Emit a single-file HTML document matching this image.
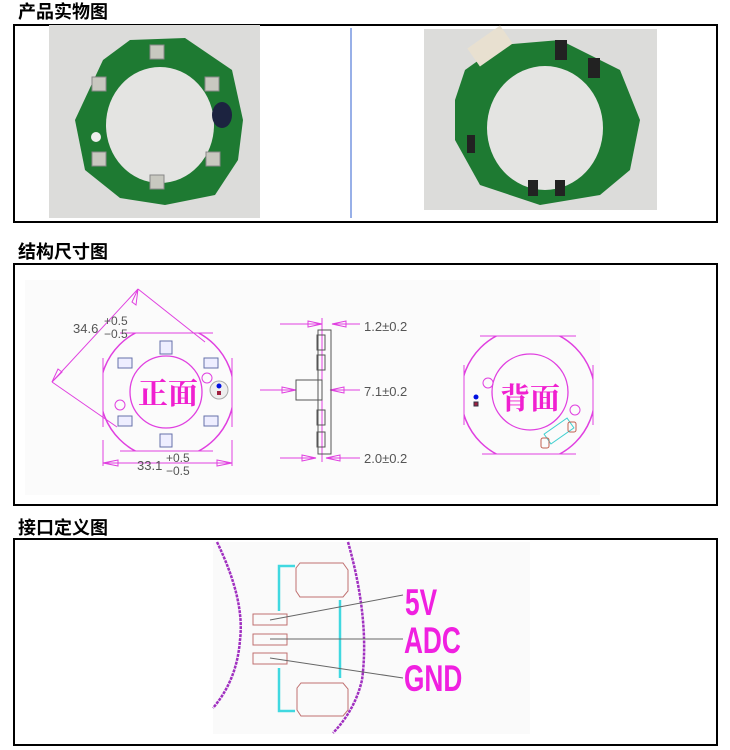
<!DOCTYPE html>
<html><head><meta charset="utf-8"><style>
body{margin:0;background:#fff;width:730px;height:750px;overflow:hidden;font-family:"Liberation Sans","Noto Sans CJK SC",sans-serif}
.t{position:absolute;left:18px;font-size:18px;font-weight:bold;color:#000;font-family:"Liberation Sans","Noto Sans CJK SC",sans-serif;line-height:20px}
</style></head><body>
<div class="t" style="top:2px">产品实物图</div>
<div class="t" style="top:242px">结构尺寸图</div>
<div class="t" style="top:518px">接口定义图</div>
<svg width="730" height="750" style="position:absolute;left:0;top:0" xmlns="http://www.w3.org/2000/svg">
<defs>
<clipPath id="oct1"><rect x="103" y="333" width="129" height="118"/></clipPath>
<clipPath id="oct2"><rect x="464" y="336" width="129" height="118"/></clipPath>
</defs>
<rect x="14" y="25" width="703" height="197" fill="none" stroke="#000" stroke-width="2"/>
<rect x="49" y="25" width="211" height="193" fill="#dcdcda"/>
<path d="M103,60 L130,40 L185,38 L232,70 L243,120 L238,160 L215,195 L165,205 L120,198 L85,170 L75,120 Z" fill="#1e7a32"/>
<ellipse cx="160" cy="125" rx="54" ry="58" fill="#e4e4e2"/>
<ellipse cx="222" cy="115" rx="10" ry="13" fill="#1c2340"/>
<g fill="#c8c8c0" stroke="#888"><rect x="150" y="45" width="14" height="14"/><rect x="92" y="77" width="14" height="14"/><rect x="205" y="77" width="14" height="14"/><rect x="92" y="152" width="14" height="14"/><rect x="206" y="152" width="14" height="14"/><rect x="150" y="175" width="14" height="14"/></g>
<circle cx="96" cy="137" r="5" fill="#eee"/>
<line x1="351" y1="28" x2="351" y2="218" stroke="#3060d0" stroke-width="1"/>
<rect x="424" y="29" width="233" height="181" fill="#dcdcda"/>
<path d="M465,70 L500,45 L560,40 L620,70 L640,120 L630,170 L600,195 L540,205 L480,185 L455,140 L455,100 Z" fill="#1e7a32"/>
<ellipse cx="545" cy="128" rx="58" ry="62" fill="#e4e4e2"/>
<rect x="470" y="35" width="40" height="22" fill="#e8e0d0" transform="rotate(-35 490 46)"/>
<g fill="#222"><rect x="555" y="40" width="12" height="20"/><rect x="588" y="58" width="12" height="20"/><rect x="528" y="180" width="10" height="16"/><rect x="555" y="180" width="10" height="16"/><rect x="467" y="135" width="8" height="18"/></g>
<rect x="14" y="264" width="703" height="241" fill="none" stroke="#000" stroke-width="2"/>
<rect x="25" y="280" width="575" height="215" fill="#fbfbfb"/>
<g fill="none" stroke="#e040e0" stroke-width="1">
<circle cx="167" cy="392" r="67" clip-path="url(#oct1)" stroke-width="1.5"/>
<line x1="120" y1="333" x2="213" y2="333"/><line x1="103" y1="358" x2="103" y2="427"/><line x1="232" y1="358" x2="232" y2="427"/><line x1="120" y1="451" x2="213" y2="451"/>
<circle cx="166" cy="392" r="36" stroke-width="1.3"/>
<circle cx="207" cy="378" r="5"/><circle cx="120" cy="405" r="5"/>
<line x1="138" y1="289" x2="205" y2="342"/><line x1="52" y1="382" x2="117" y2="427"/><line x1="52" y1="382" x2="138" y2="289"/>
<line x1="103" y1="440" x2="103" y2="466"/><line x1="232" y1="440" x2="232" y2="466"/><line x1="103" y1="463" x2="232" y2="463"/>
<path d="M103,463 l15,-3 v6 z M232,463 l-15,-3 v6 z M138,289 l-6,13 l4,3 z M52,382 l6,-13 l4,3 z"/>
<line x1="280" y1="324" x2="322" y2="324"/><line x1="332" y1="324" x2="360" y2="324"/>
<path d="M322,324 l-14,-3 v6 z M332,324 l14,-3 v6 z"/>
<line x1="260" y1="390" x2="296" y2="390"/><line x1="330" y1="390" x2="360" y2="390"/>
<path d="M296,390 l-14,-3 v6 z M330,390 l14,-3 v6 z"/>
<line x1="280" y1="458" x2="316" y2="458"/><line x1="326" y1="458" x2="360" y2="458"/>
<path d="M316,458 l-14,-3 v6 z M326,458 l14,-3 v6 z"/>
<line x1="322" y1="318" x2="322" y2="462"/>
<circle cx="528" cy="395" r="67" clip-path="url(#oct2)" stroke-width="1.5"/>
<line x1="480" y1="336" x2="576" y2="336"/><line x1="464" y1="365" x2="464" y2="425"/><line x1="593" y1="365" x2="593" y2="425"/><line x1="482" y1="454" x2="576" y2="454"/>
<circle cx="530" cy="392" r="38" stroke-width="1.3"/>
<circle cx="488" cy="383" r="5"/><circle cx="575" cy="410" r="5"/>
</g>
<g fill="none" stroke="#555"><rect x="318" y="330" width="13" height="124"/><rect x="317" y="335" width="8" height="15"/><rect x="317" y="355" width="8" height="15"/><rect x="296" y="380" width="26" height="20"/><rect x="317" y="410" width="8" height="15"/><rect x="317" y="432" width="8" height="15"/></g>
<g fill="#eef" stroke="#6670aa"><rect x="160" y="341" width="12" height="13"/><rect x="118" y="358" width="14" height="10"/><rect x="204" y="358" width="14" height="10"/><rect x="118" y="416" width="14" height="10"/><rect x="204" y="416" width="14" height="10"/><rect x="160" y="434" width="12" height="13"/></g>
<circle cx="219" cy="390" r="9" fill="#eee" stroke="#aaa"/><circle cx="219" cy="386" r="2.5" fill="#0010e0"/><rect x="217" y="391" width="4" height="4" fill="#a02040"/>
<circle cx="476" cy="397" r="2.5" fill="#0010e0"/><rect x="474" y="402" width="4" height="4" fill="#a02040" stroke="#334"/>
<rect x="545" y="425" width="28" height="12" fill="none" stroke="#40d0d0" transform="rotate(-35 559 431)"/>
<rect x="541" y="438" width="8" height="10" rx="2" fill="none" stroke="#c06050"/><rect x="568" y="422" width="8" height="10" rx="2" fill="none" stroke="#c06050"/>
<g font-family="Liberation Sans,sans-serif" fill="#555" font-size="13">
<text x="73" y="333">34.6</text><text x="104" y="325" font-size="12">+0.5</text><text x="104" y="338" font-size="12">−0.5</text>
<text x="137" y="470">33.1</text><text x="166" y="462" font-size="12">+0.5</text><text x="166" y="475" font-size="12">−0.5</text>
<text x="364" y="331">1.2±0.2</text><text x="364" y="396">7.1±0.2</text><text x="364" y="463">2.0±0.2</text>
</g>
<g font-family="Noto Serif CJK SC,Noto Sans CJK SC,serif" font-size="30" fill="#f020d0" font-weight="bold">
<text x="138" y="404">正面</text><text x="500" y="409">背面</text></g>
<rect x="14" y="539" width="703" height="206" fill="none" stroke="#000" stroke-width="2"/>
<rect x="213" y="542" width="317" height="192" fill="#fafafa"/>
<g fill="none" stroke="#a030c0" stroke-width="2.5" stroke-dasharray="3 1">
<path d="M217,542 Q245,600 240,640 Q237,680 213,708"/>
<path d="M348,542 Q370,620 362,680 Q355,710 333,733"/>
</g>
<g fill="none" stroke="#c07070">
<path d="M300,563 H343 L348,570 V591 L343,597 H300 L296,591 V568 Z"/>
<path d="M301,683 H343 L348,689 V710 L343,716 H301 L297,710 V688 Z"/>
<rect x="253" y="614" width="34" height="11"/><rect x="253" y="634" width="34" height="11"/><rect x="253" y="653" width="34" height="11"/>
</g>
<g fill="none" stroke="#40d8e0" stroke-width="2.5">
<path d="M279,611 V566 H295"/><line x1="340" y1="600" x2="340" y2="678"/><path d="M279,668 V711 H295"/>
</g>
<g stroke="#666" stroke-width="1"><line x1="270" y1="620" x2="403" y2="595"/><line x1="270" y1="639" x2="403" y2="639"/><line x1="270" y1="658" x2="403" y2="678"/></g>
<g font-family="Liberation Sans,sans-serif" font-weight="bold" fill="#f020e0" font-size="32">
<text transform="translate(405 615) scale(0.82 1.15)">5V</text>
<text transform="translate(404 653) scale(0.82 1.15)">ADC</text>
<text transform="translate(404 691) scale(0.82 1.15)">GND</text>
</g>
</svg>
</body></html>
